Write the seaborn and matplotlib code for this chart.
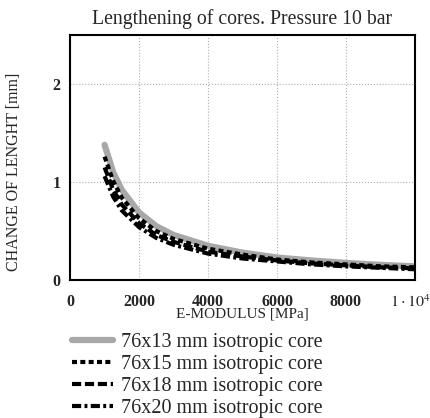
import pandas as pd
import matplotlib
matplotlib.use('Agg')
import matplotlib.pyplot as plt
import matplotlib.transforms as mtransforms
import seaborn as sns

# values
e_modulus = [1000, 1250, 1500, 2000, 2500, 3000, 4000, 5000, 6000, 7000, 8000, 9000, 10000]
core_13 = [1.38, 1.10, 0.92, 0.69, 0.55, 0.46, 0.35, 0.28, 0.23, 0.20, 0.175, 0.155, 0.14]
core_15 = [1.26, 1.01, 0.84, 0.63, 0.50, 0.42, 0.32, 0.26, 0.21, 0.18, 0.16, 0.14, 0.13]
core_18 = [1.15, 0.92, 0.77, 0.58, 0.46, 0.39, 0.29, 0.24, 0.20, 0.17, 0.15, 0.13, 0.12]
core_20 = [1.06, 0.85, 0.71, 0.54, 0.43, 0.36, 0.27, 0.22, 0.19, 0.16, 0.14, 0.125, 0.11]
labels = ['76x13 mm isotropic core', '76x15 mm isotropic core',
          '76x18 mm isotropic core', '76x20 mm isotropic core']
x_ticks = [0, 2000, 4000, 6000, 8000, 10000]
x_ticklabels = ['0', '2000', '4000', '6000', '8000', r'$1\cdot10^{4}$']

df = pd.DataFrame({'E': e_modulus * 4,
                   'dL': core_13 + core_15 + core_18 + core_20,
                   'core': [l for l in labels for _ in e_modulus]})

sns.set_style('white')
plt.rcParams['font.family'] = ['Liberation Serif', 'DejaVu Serif']
plt.rcParams['mathtext.fontset'] = 'stix'

fig = plt.figure(figsize=(4.3, 4.18), dpi=100)
ax = fig.add_axes([0.163, 0.330, 0.802, 0.586])

styles = [dict(color='#a8a8a8', lw=4.5, ls='-'),
          dict(color='black', lw=3.0, ls=(0, (1.2, 0.8))),
          dict(color='black', lw=3.0, ls=(0, (2.2, 0.9))),
          dict(color='black', lw=3.0, ls=(0, (2.2, 0.8, 0.7, 0.8)))]

for lab, st in zip(labels, styles):
    sns.lineplot(data=df[df['core'] == lab], x='E', y='dL', ax=ax, label=lab,
                 color=st['color'], linewidth=st['lw'], linestyle=st['ls'])

ax.set_xlim(0, 10000)
ax.set_ylim(0, 2.5)
ax.set_xticks(x_ticks)
ax.set_xticklabels(x_ticklabels)
ax.set_yticks([0, 1, 2])
for t in ax.get_xticklabels() + ax.get_yticklabels():
    t.set_fontweight('bold')
    t.set_fontsize(11.5)
ax.tick_params(axis='x', length=0, pad=10)
ax.tick_params(axis='y', length=0, pad=7)
# keep the last tick label inside the figure
last = ax.get_xticklabels()[-1]
last.set_transform(last.get_transform() + mtransforms.ScaledTranslation(-5 / 100, 0, fig.dpi_scale_trans))
ax.grid(True, color='#b0b0b0', linestyle=':', linewidth=0.8)
for s in ax.spines.values():
    s.set_color('black')
    s.set_linewidth(1.5)

ax.set_title('Lengthening of cores. Pressure 10 bar', fontsize=14.2, pad=8)
ax.set_xlabel('E-MODULUS [MPa]', fontsize=11, labelpad=-2)
ax.set_ylabel('CHANGE OF LENGHT [mm]', fontsize=11.5)
ax.yaxis.set_label_coords(-0.14, 0.44)

handles, labs = ax.get_legend_handles_labels()
ax.get_legend().remove()
fig.legend(handles, labs, loc='upper left', bbox_to_anchor=(0.145, 0.228),
           frameon=False, fontsize=14.5, handlelength=2.0, handletextpad=0.4,
           labelspacing=0.14, borderpad=0)

fig.savefig('out.png', dpi=100)
